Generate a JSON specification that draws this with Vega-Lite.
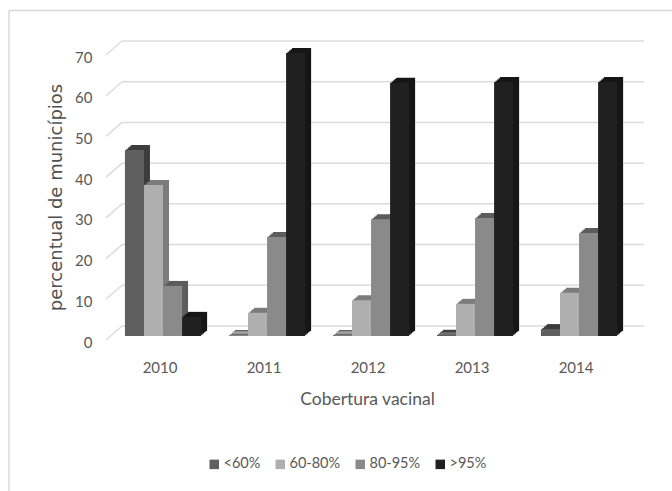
{
  "$schema": "https://vega.github.io/schema/vega-lite/v6.json",
  "width": 538,
  "height": 285,
  "autosize": "none",
  "padding": {"left": 106, "top": 51, "right": 28, "bottom": 155},
  "background": "white",
  "view": {"stroke": null},
  "config": {"font": "Lato"},
  "datasets": {
    "ticks": [{"tick": 0}, {"tick": 10}, {"tick": 20}, {"tick": 30}, {"tick": 40}, {"tick": 50}, {"tick": 60}, {"tick": 70}],
    "coverage": [
      {"ano": "2010", "faixa": "<60%", "pct": 45.7},
      {"ano": "2010", "faixa": "60-80%", "pct": 37.1},
      {"ano": "2010", "faixa": "80-95%", "pct": 12.3},
      {"ano": "2010", "faixa": ">95%", "pct": 4.7},
      {"ano": "2011", "faixa": "<60%", "pct": 0.2},
      {"ano": "2011", "faixa": "60-80%", "pct": 5.7},
      {"ano": "2011", "faixa": "80-95%", "pct": 24.3},
      {"ano": "2011", "faixa": ">95%", "pct": 69.5},
      {"ano": "2012", "faixa": "<60%", "pct": 0.2},
      {"ano": "2012", "faixa": "60-80%", "pct": 8.8},
      {"ano": "2012", "faixa": "80-95%", "pct": 28.7},
      {"ano": "2012", "faixa": ">95%", "pct": 62.2},
      {"ano": "2013", "faixa": "<60%", "pct": 0.3},
      {"ano": "2013", "faixa": "60-80%", "pct": 7.9},
      {"ano": "2013", "faixa": "80-95%", "pct": 29.0},
      {"ano": "2013", "faixa": ">95%", "pct": 62.4},
      {"ano": "2014", "faixa": "<60%", "pct": 1.7},
      {"ano": "2014", "faixa": "60-80%", "pct": 10.6},
      {"ano": "2014", "faixa": "80-95%", "pct": 25.3},
      {"ano": "2014", "faixa": ">95%", "pct": 62.4}
    ]
  },
  "layer": [
    {
      "data": {"name": "ticks"},
      "mark": {"type": "rule", "color": "#dcdcdc", "strokeWidth": 1.5, "xOffset": 11, "x2Offset": 65, "yOffset": -10, "y2Offset": -10},
      "encoding": {
        "x": {
          "datum": "2010", "bandPosition": 0, "type": "nominal",
          "scale": {"paddingInner": 0, "paddingOuter": 0.0865, "align": 0.28},
          "axis": {"title": "Cobertura vacinal", "titleFont": "Lato", "titleFontSize": 17.5, "titleFontWeight": "normal", "titleColor": "#595959", "titlePadding": 15, "titleX": 261, "labelFont": "Lato", "labelFontSize": 15, "labelColor": "#595959", "labelAngle": 0, "labelOffset": -3, "labelPadding": 24, "ticks": false, "domain": false, "grid": false}
        },
        "x2": {"datum": "2014"},
        "y": {
          "field": "tick", "type": "quantitative",
          "scale": {"domain": [0, 70], "nice": false},
          "axis": {"title": "percentual de municípios", "values": [0, 10, 20, 30, 40, 50, 60, 70], "titleFont": "DejaVu Sans", "titleFontSize": 18, "titleFontWeight": "normal", "titleColor": "#505050", "titleX": -41, "titleY": 146, "labelFont": "Lato", "labelFontSize": 15, "labelColor": "#595959", "labelOffset": 6, "labelPadding": 14, "ticks": false, "domain": false, "grid": false}
        },
        "y2": {"field": "tick"}
      }
    },
    {
      "data": {"name": "ticks"},
      "mark": {"type": "rule", "color": "#dcdcdc", "strokeWidth": 1.5, "xOffset": -5, "x2Offset": -41, "yOffset": 4, "y2Offset": -10},
      "encoding": {
        "x": {"datum": "2010", "bandPosition": 0, "type": "nominal"},
        "x2": {"datum": "2010"},
        "y": {"field": "tick", "type": "quantitative"},
        "y2": {"field": "tick"}
      }
    },
    {
      "data": {"values": [{"tick": 70}]},
      "mark": {"type": "rule", "color": "#d9d9d9", "strokeWidth": 1.5, "xOffset": -102, "x2Offset": 93, "yOffset": -40.5, "y2Offset": -40.5},
      "encoding": {
        "x": {"datum": "2010", "bandPosition": 0, "type": "nominal"},
        "x2": {"datum": "2014"},
        "y": {"field": "tick", "type": "quantitative"},
        "y2": {"field": "tick"}
      }
    },
    {
      "data": {"values": [{"topo": 70, "base": 0}]},
      "mark": {"type": "rule", "color": "#d9d9d9", "strokeWidth": 1.5, "xOffset": -102, "yOffset": -40.5, "y2Offset": 155},
      "encoding": {
        "x": {"datum": "2010", "bandPosition": 0, "type": "nominal"},
        "y": {"field": "topo", "type": "quantitative"},
        "y2": {"field": "base"}
      }
    },
    {
      "data": {"name": "coverage"},
      "resolve": {"scale": {"xOffset": "independent"}},
      "encoding": {
        "x": {"field": "ano", "type": "nominal"},
        "y": {"field": "pct", "type": "quantitative"}
      },
      "layer": [
        {"transform": [{"filter": "datum.faixa === '<60%'"}], "mark": {"type": "bar", "color": "#3d3d3d", "yOffset": -5}, "encoding": {"xOffset": {"field": "faixa", "scale": {"domain": ["<60%", "60-80%", "80-95%", ">95%"], "paddingInner": 0, "paddingOuter": 0.73, "align": 0.715}}}},
        {"transform": [{"filter": "datum.faixa === '<60%'"}], "mark": {"type": "bar", "color": "#3d3d3d", "yOffset": -3.75}, "encoding": {"xOffset": {"field": "faixa", "scale": {"domain": ["<60%", "60-80%", "80-95%", ">95%"], "paddingInner": 0, "paddingOuter": 0.73, "align": 0.661}}}},
        {"transform": [{"filter": "datum.faixa === '<60%'"}], "mark": {"type": "bar", "color": "#3d3d3d", "yOffset": -2.5}, "encoding": {"xOffset": {"field": "faixa", "scale": {"domain": ["<60%", "60-80%", "80-95%", ">95%"], "paddingInner": 0, "paddingOuter": 0.73, "align": 0.608}}}},
        {"transform": [{"filter": "datum.faixa === '<60%'"}], "mark": {"type": "bar", "color": "#3d3d3d", "yOffset": -1.25}, "encoding": {"xOffset": {"field": "faixa", "scale": {"domain": ["<60%", "60-80%", "80-95%", ">95%"], "paddingInner": 0, "paddingOuter": 0.73, "align": 0.554}}}},
        {"transform": [{"filter": "datum.faixa === '<60%'"}], "mark": {"type": "bar"}, "encoding": {"xOffset": {"field": "faixa", "scale": {"domain": ["<60%", "60-80%", "80-95%", ">95%"], "paddingInner": 0, "paddingOuter": 0.73}}, "color": {"field": "faixa", "type": "nominal", "scale": {"domain": ["<60%", "60-80%", "80-95%", ">95%"], "range": ["#5f5f5f", "#afafaf", "#8a8a8a", "#202020"]}, "legend": {"title": null, "orient": "none", "legendX": 101, "legendY": 406, "direction": "horizontal", "columns": 4, "symbolType": "square", "symbolSize": 90, "symbolStrokeWidth": 0, "labelFont": "Lato", "labelFontSize": 14.5, "labelColor": "#595959", "columnPadding": 12, "labelOffset": 2}}}},

        {"transform": [{"filter": "datum.faixa === '60-80%'"}], "mark": {"type": "bar", "color": "#7c7c7c", "yOffset": -5}, "encoding": {"xOffset": {"field": "faixa", "scale": {"domain": ["<60%", "60-80%", "80-95%", ">95%"], "paddingInner": 0, "paddingOuter": 0.73, "align": 0.715}}}},
        {"transform": [{"filter": "datum.faixa === '60-80%'"}], "mark": {"type": "bar", "color": "#7c7c7c", "yOffset": -3.75}, "encoding": {"xOffset": {"field": "faixa", "scale": {"domain": ["<60%", "60-80%", "80-95%", ">95%"], "paddingInner": 0, "paddingOuter": 0.73, "align": 0.661}}}},
        {"transform": [{"filter": "datum.faixa === '60-80%'"}], "mark": {"type": "bar", "color": "#7c7c7c", "yOffset": -2.5}, "encoding": {"xOffset": {"field": "faixa", "scale": {"domain": ["<60%", "60-80%", "80-95%", ">95%"], "paddingInner": 0, "paddingOuter": 0.73, "align": 0.608}}}},
        {"transform": [{"filter": "datum.faixa === '60-80%'"}], "mark": {"type": "bar", "color": "#7c7c7c", "yOffset": -1.25}, "encoding": {"xOffset": {"field": "faixa", "scale": {"domain": ["<60%", "60-80%", "80-95%", ">95%"], "paddingInner": 0, "paddingOuter": 0.73, "align": 0.554}}}},
        {"transform": [{"filter": "datum.faixa === '60-80%'"}], "mark": {"type": "bar"}, "encoding": {"xOffset": {"field": "faixa", "scale": {"domain": ["<60%", "60-80%", "80-95%", ">95%"], "paddingInner": 0, "paddingOuter": 0.73}}, "color": {"field": "faixa", "type": "nominal"}}},

        {"transform": [{"filter": "datum.faixa === '80-95%'"}], "mark": {"type": "bar", "color": "#5c5c5c", "yOffset": -5}, "encoding": {"xOffset": {"field": "faixa", "scale": {"domain": ["<60%", "60-80%", "80-95%", ">95%"], "paddingInner": 0, "paddingOuter": 0.73, "align": 0.715}}}},
        {"transform": [{"filter": "datum.faixa === '80-95%'"}], "mark": {"type": "bar", "color": "#5c5c5c", "yOffset": -3.75}, "encoding": {"xOffset": {"field": "faixa", "scale": {"domain": ["<60%", "60-80%", "80-95%", ">95%"], "paddingInner": 0, "paddingOuter": 0.73, "align": 0.661}}}},
        {"transform": [{"filter": "datum.faixa === '80-95%'"}], "mark": {"type": "bar", "color": "#5c5c5c", "yOffset": -2.5}, "encoding": {"xOffset": {"field": "faixa", "scale": {"domain": ["<60%", "60-80%", "80-95%", ">95%"], "paddingInner": 0, "paddingOuter": 0.73, "align": 0.608}}}},
        {"transform": [{"filter": "datum.faixa === '80-95%'"}], "mark": {"type": "bar", "color": "#5c5c5c", "yOffset": -1.25}, "encoding": {"xOffset": {"field": "faixa", "scale": {"domain": ["<60%", "60-80%", "80-95%", ">95%"], "paddingInner": 0, "paddingOuter": 0.73, "align": 0.554}}}},
        {"transform": [{"filter": "datum.faixa === '80-95%'"}], "mark": {"type": "bar"}, "encoding": {"xOffset": {"field": "faixa", "scale": {"domain": ["<60%", "60-80%", "80-95%", ">95%"], "paddingInner": 0, "paddingOuter": 0.73}}, "color": {"field": "faixa", "type": "nominal"}}},

        {"transform": [{"filter": "datum.faixa === '>95%'"}], "mark": {"type": "bar", "color": "#161616", "yOffset": -5}, "encoding": {"xOffset": {"field": "faixa", "scale": {"domain": ["<60%", "60-80%", "80-95%", ">95%"], "paddingInner": 0, "paddingOuter": 0.73, "align": 0.715}}}},
        {"transform": [{"filter": "datum.faixa === '>95%'"}], "mark": {"type": "bar", "color": "#161616", "yOffset": -3.75}, "encoding": {"xOffset": {"field": "faixa", "scale": {"domain": ["<60%", "60-80%", "80-95%", ">95%"], "paddingInner": 0, "paddingOuter": 0.73, "align": 0.661}}}},
        {"transform": [{"filter": "datum.faixa === '>95%'"}], "mark": {"type": "bar", "color": "#161616", "yOffset": -2.5}, "encoding": {"xOffset": {"field": "faixa", "scale": {"domain": ["<60%", "60-80%", "80-95%", ">95%"], "paddingInner": 0, "paddingOuter": 0.73, "align": 0.608}}}},
        {"transform": [{"filter": "datum.faixa === '>95%'"}], "mark": {"type": "bar", "color": "#161616", "yOffset": -1.25}, "encoding": {"xOffset": {"field": "faixa", "scale": {"domain": ["<60%", "60-80%", "80-95%", ">95%"], "paddingInner": 0, "paddingOuter": 0.73, "align": 0.554}}}},
        {"transform": [{"filter": "datum.faixa === '>95%'"}], "mark": {"type": "bar"}, "encoding": {"xOffset": {"field": "faixa", "scale": {"domain": ["<60%", "60-80%", "80-95%", ">95%"], "paddingInner": 0, "paddingOuter": 0.73}}, "color": {"field": "faixa", "type": "nominal"}}}
      ]
    }
  ]
}
